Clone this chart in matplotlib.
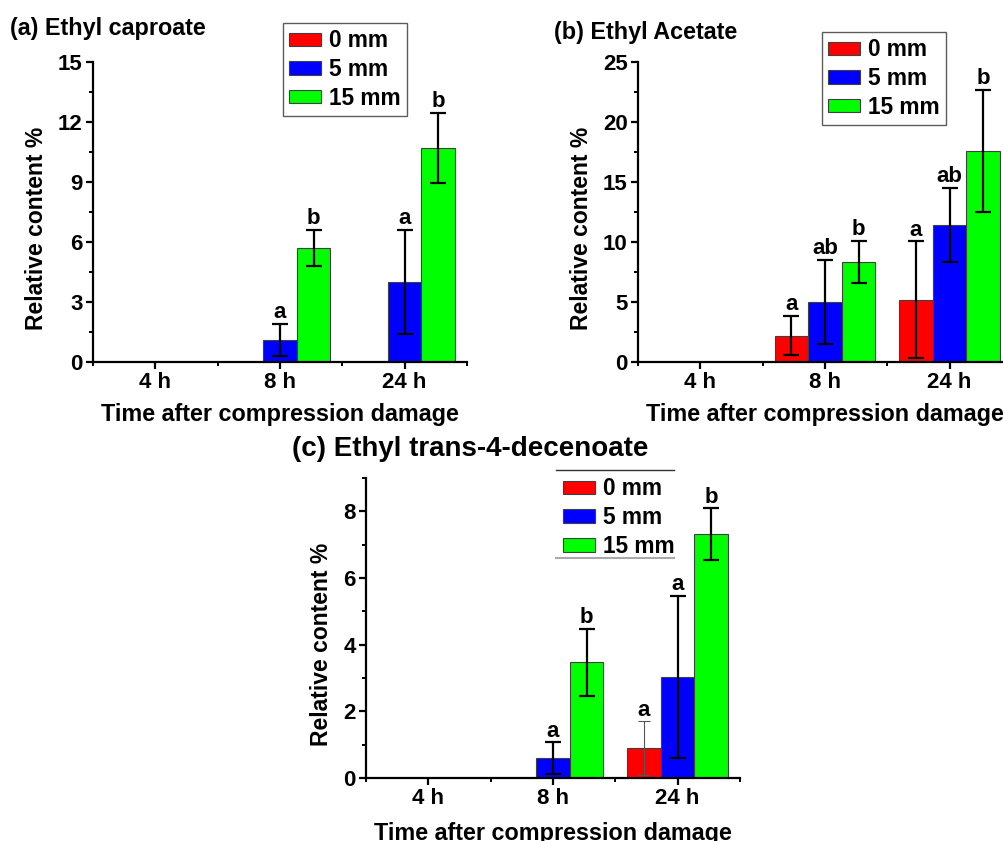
import matplotlib
matplotlib.use("Agg")
import matplotlib.pyplot as plt
import numpy as np

plt.rcParams['font.family'] = ['Liberation Sans', 'DejaVu Sans']
plt.rcParams['font.weight'] = 'bold'

categories = ['4 h', '8 h', '24 h']
series = ['0 mm', '5 mm', '15 mm']
colors = ['#FF0000', '#0000FF', '#00FF00']

# (a) Ethyl caproate
a_vals = [[0, 0, 0], [0, 1.1, 4.0], [0, 5.7, 10.7]]
a_errs = [[0, 0, 0], [0, 0.8, 2.6], [0, 0.9, 1.75]]
a_letters = [['', '', ''], ['', 'a', 'a'], ['', 'b', 'b']]

# (b) Ethyl Acetate
b_vals = [[0, 2.2, 5.2], [0, 5.0, 11.4], [0, 8.35, 17.6]]
b_errs = [[0, 1.65, 4.85], [0, 3.5, 3.1], [0, 1.75, 5.1]]
b_letters = [['', 'a', 'a'], ['', 'ab', 'ab'], ['', 'b', 'b']]

# (c) Ethyl trans-4-decenoate
c_vals = [[0, 0, 0.9], [0, 0.6, 3.03], [0, 3.47, 7.32]]
c_errs = [[0, 0, 0.8], [0, 0.47, 2.43], [0, 1.0, 0.77]]
c_letters = [['', '', 'a'], ['', 'a', 'a'], ['', 'b', 'b']]

FS = 16.0    # tick labels, letters
FLEG = 16.3  # legend
FX = 16.8    # x labels and titles
FY = 16.5    # y labels
W, H = 1004, 841
fig = plt.figure(figsize=(W / 100, H / 100), dpi=100)


def px_axes(x0, y0, x1, y1):
    return fig.add_axes([x0 / W, 1 - y1 / H, (x1 - x0) / W, (y1 - y0) / H])


def draw(ax, vals, errs, letters, ylim, yticks, yminor, thin=(), xl_y=-0.197):
    x = np.arange(len(categories))
    bw = 0.27
    handles = []
    for i, (v, e, lab) in enumerate(zip(vals, errs, letters)):
        xs = x + (i - 1) * bw
        b = ax.bar(xs, v, bw, color=colors[i], edgecolor='#404040', linewidth=0.8,
                   label=series[i], zorder=2)
        handles.append(b)
        for j in range(len(categories)):
            if e[j] > 0:
                if (i, j) in thin:
                    ax.errorbar(xs[j], v[j], yerr=e[j], fmt='none', ecolor='#555555',
                                elinewidth=0.8, capsize=4, capthick=0.8, zorder=3)
                else:
                    ax.errorbar(xs[j], v[j], yerr=e[j], fmt='none', ecolor='black',
                                elinewidth=1.6, capsize=5.5, capthick=1.6, zorder=3)
            if lab[j]:
                ax.annotate(lab[j], (xs[j], v[j] + e[j]), xytext=(0, 4),
                            textcoords='offset points', ha='center', va='baseline',
                            fontsize=FS, fontweight='bold')
    ax.set_xlim(-0.5, 2.5)
    ax.set_ylim(*ylim)
    ax.set_xticks(x)
    ax.set_xticklabels(categories)
    ax.set_xticks([-0.5, 0.5, 1.5, 2.5], minor=True)
    ax.set_yticks(yticks)
    ax.set_yticks(yminor, minor=True)
    for s in ['top', 'right']:
        ax.spines[s].set_visible(False)
    for s in ['left', 'bottom']:
        ax.spines[s].set_linewidth(1.6)
    ax.tick_params(axis='both', which='major', direction='out', length=5, width=1.6,
                   labelsize=FS, pad=2.5)
    ax.tick_params(axis='both', which='minor', direction='out', length=3, width=1.4)
    for t in ax.get_xticklabels() + ax.get_yticklabels():
        t.set_fontweight('bold')
    ax.text(0.5, xl_y, 'Time after compression damage', transform=ax.transAxes,
            ha='center', va='baseline', fontsize=FX, fontweight='bold')
    return handles


def legend(ax, handles, x0, ytop, frame=True):
    lg = ax.legend(handles=handles, loc='upper left', bbox_to_anchor=(x0, ytop),
                   handlelength=1.4, handleheight=0.55, handletextpad=0.35,
                   labelspacing=0.25, borderpad=0.28, borderaxespad=0, frameon=frame,
                   fancybox=False, prop={'weight': 'bold', 'size': FLEG})
    if frame:
        lg.get_frame().set_edgecolor('#333333')
        lg.get_frame().set_linewidth(1.0)
    return lg


# panel a
axa = px_axes(93, 62, 467, 362)
ha_ = draw(axa, a_vals, a_errs, a_letters, (0, 15), [0, 3, 6, 9, 12, 15],
           [1.5, 4.5, 7.5, 10.5, 13.5])
legend(axa, ha_, 0.508, 1.13)
axa.text(-0.152, 0.447, 'Relative content %', rotation=90, transform=axa.transAxes,
         ha='center', va='center', fontsize=FY, fontweight='bold')
fig.text(10 / W, 1 - 29 / H, '(a) Ethyl caproate', ha='left', va='center',
         fontsize=FX, fontweight='bold')

# panel b
axb = px_axes(638, 62, 1012, 362)
hb = draw(axb, b_vals, b_errs, b_letters, (0, 25), [0, 5, 10, 15, 20, 25],
          [2.5, 7.5, 12.5, 17.5, 22.5])
legend(axb, hb, 0.492, 1.10)
axb.text(-0.152, 0.447, 'Relative content %', rotation=90, transform=axb.transAxes,
         ha='center', va='center', fontsize=FY, fontweight='bold')
fig.text(554 / W, 1 - 33 / H, '(b) Ethyl Acetate', ha='left', va='center',
         fontsize=FX, fontweight='bold')

# panel c
axc = px_axes(366, 478, 740, 778)
hc = draw(axc, c_vals, c_errs, c_letters, (0, 9), [0, 2, 4, 6, 8],
          [1, 3, 5, 7, 9], thin={(0, 2)}, xl_y=-0.207)
legend(axc, hc, 0.511, 1.023, frame=False)
axc.plot([0.508, 0.823], [1.027, 1.027], transform=axc.transAxes, color='#333333',
         lw=1.0, clip_on=False)
axc.plot([0.508, 0.823], [0.733, 0.733], transform=axc.transAxes, color='#aaaaaa',
         lw=1.5, clip_on=False)
axc.text(-0.120, 0.447, 'Relative content %', rotation=90, transform=axc.transAxes,
         ha='center', va='center', fontsize=FY, fontweight='bold')
fig.text(292 / W, 1 - 449 / H, '(c) Ethyl trans-4-decenoate', ha='left', va='center',
         fontsize=20, fontweight='bold')

fig.savefig('out.png', dpi=100)
